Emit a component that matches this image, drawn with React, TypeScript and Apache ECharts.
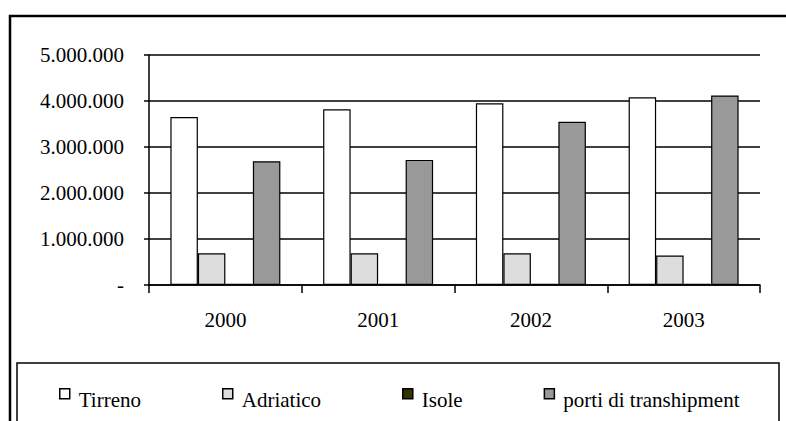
import React, { useEffect, useRef } from "react";
import * as echarts from "echarts";

const categories = ["2000", "2001", "2002", "2003"];
const tirreno = [3650000, 3820000, 3950000, 4080000];
const adriatico = [690000, 690000, 690000, 640000];
const isole = [25000, 25000, 25000, 25000];
const porti = [2690000, 2720000, 3550000, 4120000];
const seriesNames = ["Tirreno", "Adriatico", "Isole", "porti di transhipment"];
const seriesColors = ["#FFFFFF", "#DDDDDD", "#333300", "#999999"];

const fmt = (v: number) => {
  if (v === 0) return "-";
  return String(Math.round(v)).replace(/\B(?=(\d{3})+(?!\d))/g, ".");
};

export default function App() {
  const ref = useRef<HTMLDivElement>(null);
  useEffect(() => {
    if (!ref.current) return;
    const chart = echarts.init(ref.current, null, { renderer: "svg" });
    const font = "Liberation Serif";
    const data = [tirreno, adriatico, isole, porti];
    chart.setOption({
      animation: false,
      backgroundColor: "#FFFFFF",
      textStyle: { fontFamily: font },
      grid: { left: 149, right: 26, top: 55, bottom: 136, containLabel: false },
      graphic: [
        {
          type: "polyline",
          shape: { points: [[10, 421], [10, 16], [786, 16]] },
          style: { fill: "none", stroke: "#000", lineWidth: 2.5 },
          silent: true,
        },
        {
          type: "polyline",
          shape: { points: [[17, 421], [17, 363], [779, 363], [779, 421]] },
          style: { fill: "none", stroke: "#000", lineWidth: 1.5 },
          silent: true,
        },
      ],
      legend: {
        left: 59,
        top: 388,
        padding: 0,
        itemWidth: 10,
        itemHeight: 22,
        itemGap: 81,
        icon: "path://M0 0H10V10H0Z M0 22",
        itemStyle: { borderColor: "#000", borderWidth: 1.5 },
        textStyle: { fontFamily: font, fontSize: 21, color: "#000", padding: [0, 0, 0, 4] },
        data: seriesNames,
      },
      xAxis: {
        type: "category",
        data: categories,
        axisLine: { lineStyle: { color: "#000", width: 1.5 } },
        axisTick: { show: true, length: 8, lineStyle: { color: "#000", width: 1.5 } },
        axisLabel: { color: "#000", fontSize: 21, fontFamily: font, margin: 24 },
      },
      yAxis: {
        type: "value",
        min: 0,
        max: 5000000,
        interval: 1000000,
        axisLine: { show: true, lineStyle: { color: "#000", width: 1.5 } },
        axisTick: { show: true, length: 5, lineStyle: { color: "#000", width: 1.5 } },
        axisLabel: { color: "#000", fontSize: 21, fontFamily: font, margin: 25, formatter: fmt },
        splitLine: { show: true, lineStyle: { color: "#000", width: 1.5 } },
      },
      series: seriesNames.map((name, i) => ({
        name,
        type: "bar",
        data: data[i],
        barGap: "0%",
        barCategoryGap: "28%",
        itemStyle: { color: seriesColors[i], borderColor: "#000", borderWidth: 1.2 },
      })),
    });
    return () => chart.dispose();
  }, []);
  return (
    <div
      ref={ref}
      style={{ position: "fixed", left: 0, top: 0, width: 786, height: 421 }}
    />
  );
}
